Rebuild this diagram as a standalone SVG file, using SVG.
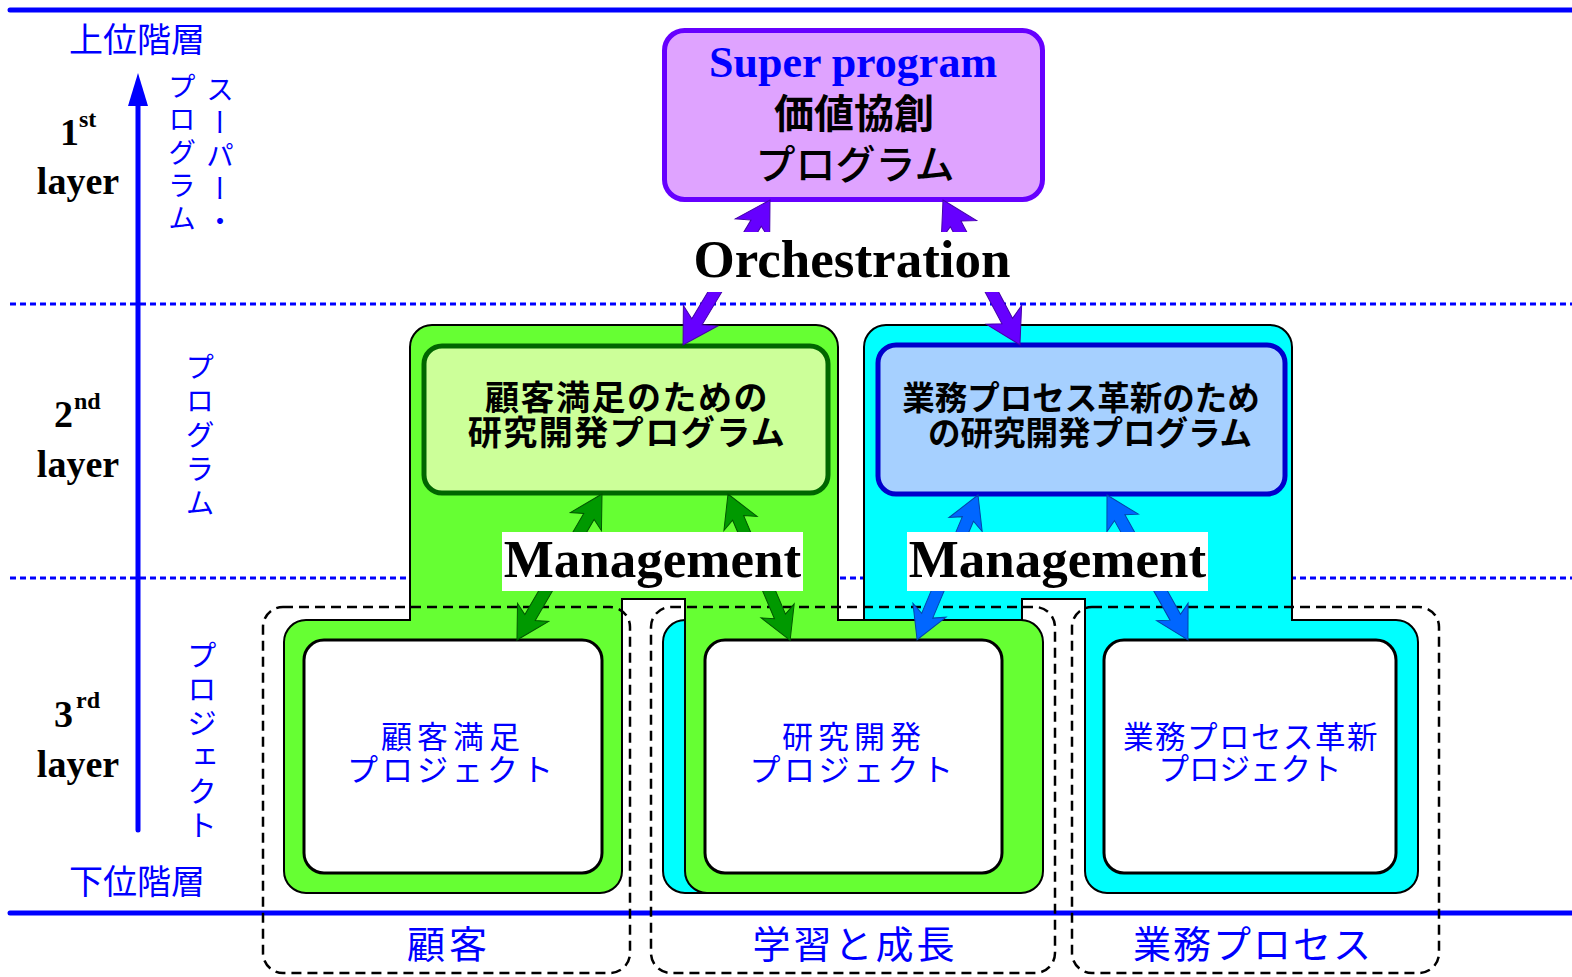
<svg xmlns="http://www.w3.org/2000/svg" width="1572" height="977" viewBox="0 0 1572 977">
<style>
.lat{font-family:"Liberation Serif","Times New Roman",serif;font-weight:bold}
.jp{font-family:"Noto Sans CJK JP","Noto Sans",sans-serif}
.blue{fill:#0000FF}
.solid{stroke:#0000FF;stroke-width:5;stroke-linecap:round;fill:none}
.dot{stroke:#0000FF;stroke-width:3;stroke-dasharray:6 4;fill:none}
.dash{stroke:#000;stroke-width:2.5;stroke-dasharray:10 6;fill:none}
.cont{stroke:#000;stroke-width:2}
.inner{fill:#fff;stroke:#000;stroke-width:3}
.vert{writing-mode:vertical-rl;text-orientation:upright}
.ap{fill:#6600FF;stroke:#4400aa;stroke-width:1}
.ag{fill:#009900;stroke:#005500;stroke-width:1}
.ab{fill:#0066FF;stroke:#0044aa;stroke-width:1}
.lbl{fill:#fff}
</style>

<g id="guides">
  <line class="solid" x1="10" y1="10" x2="1572" y2="10"/>
  <line class="solid" x1="10" y1="913" x2="1572" y2="913"/>
  <line class="dot" x1="10" y1="304" x2="1572" y2="304"/>
  <line class="dot" x1="10" y1="578" x2="1572" y2="578"/>
</g>

<g id="axis">
  <line class="solid" x1="138" y1="100" x2="138" y2="830"/>
  <polygon points="138,73 128,106 148,106" fill="#0000FF"/>
  <text class="jp blue" x="137" y="52" font-size="34" text-anchor="middle">上位階層</text>
  <text class="jp blue" x="137" y="894" font-size="34" text-anchor="middle">下位階層</text>
</g>

<g id="layer1">
  <text class="lat" x="60" y="145" font-size="38">1</text>
  <text class="lat" x="79" y="127" font-size="24">st</text>
  <text class="lat" x="78" y="194" font-size="38" text-anchor="middle">layer</text>
  <text class="jp blue vert" x="220" y="75" font-size="28" letter-spacing="5">スーパー・</text>
  <text class="jp blue vert" x="182" y="72" font-size="28" letter-spacing="5">プログラム</text>
</g>
<g id="layer2">
  <text class="lat" x="54" y="427" font-size="38">2</text>
  <text class="lat" x="74" y="409" font-size="24">nd</text>
  <text class="lat" x="78" y="477" font-size="38" text-anchor="middle">layer</text>
  <text class="jp blue vert" x="200" y="352" font-size="29" letter-spacing="5">プログラム</text>
</g>
<g id="layer3">
  <text class="lat" x="54" y="727" font-size="38">3</text>
  <text class="lat" x="76" y="708" font-size="24">rd</text>
  <text class="lat" x="78" y="777" font-size="38" text-anchor="middle">layer</text>
  <text class="jp blue vert" x="202" y="640" font-size="30" letter-spacing="4">プロジェクト</text>
</g>

<g id="cyan-program">
  <path class="cont" fill="#00FFFF" d="M864,620 H685 A22 22 0 0 0 663,642 V871 A22 22 0 0 0 685,893 H1000 A22 22 0 0 0 1022,871 V599 H1085 V871 A22 22 0 0 0 1107,893 H1396 A22 22 0 0 0 1418,871 V642 A22 22 0 0 0 1396,620 H1292 V347 A22 22 0 0 0 1270,325 H886 A22 22 0 0 0 864,347 Z"/>
</g>
<g id="green-program">
  <path class="cont" fill="#66FF33" d="M410,620 H306 A22 22 0 0 0 284,642 V871 A22 22 0 0 0 306,893 H600 A22 22 0 0 0 622,871 V599 H685 V871 A22 22 0 0 0 707,893 H1021 A22 22 0 0 0 1043,871 V642 A22 22 0 0 0 1021,620 H838 V347 A22 22 0 0 0 816,325 H432 A22 22 0 0 0 410,347 Z"/>
</g>

<g id="project-customer">
  <rect class="inner" x="304" y="640" width="298" height="233" rx="20"/>
  <text class="jp blue" font-size="31" text-anchor="middle"><tspan x="453" y="748" letter-spacing="5">顧客満足</tspan><tspan x="452" y="781" letter-spacing="4">プロジェクト</tspan></text>
</g>
<g id="project-rd">
  <rect class="inner" x="705" y="640" width="297" height="233" rx="20"/>
  <text class="jp blue" font-size="31" text-anchor="middle"><tspan x="854" y="748" letter-spacing="5">研究開発</tspan><tspan x="853" y="781" letter-spacing="3.5">プロジェクト</tspan></text>
</g>
<g id="project-bpr">
  <rect class="inner" x="1104" y="640" width="292" height="233" rx="20"/>
  <text class="jp blue" font-size="30.5" text-anchor="middle"><tspan x="1251" y="748" letter-spacing="1.5">業務プロセス革新</tspan><tspan x="1250" y="780">プロジェクト</tspan></text>
</g>

<g id="program-customer">
  <rect x="424" y="346" width="404" height="147" rx="18" fill="#CCFF99" stroke="#006600" stroke-width="5"/>
  <text class="jp" font-size="34" font-weight="bold" letter-spacing="1.5" text-anchor="middle"><tspan x="627" y="410">顧客満足のための</tspan><tspan x="627" y="445">研究開発プログラム</tspan></text>
</g>
<g id="program-bpr">
  <rect x="878" y="345" width="407" height="149" rx="18" fill="#A6D0FF" stroke="#0000CC" stroke-width="5"/>
  <text class="jp" font-size="32.5" font-weight="bold" text-anchor="middle"><tspan x="1081" y="410">業務プロセス革新のため</tspan><tspan x="1090" y="445">の研究開発プログラム</tspan></text>
</g>

<g id="super-program">
  <rect x="664.5" y="30.5" width="378" height="169" rx="20" fill="#DFA3FF" stroke="#6600FF" stroke-width="5"/>
  <text class="lat blue" x="853" y="77" font-size="44" text-anchor="middle">Super program</text>
  <text class="jp" font-size="40" text-anchor="middle"><tspan x="854" y="128" font-weight="bold">価値協創</tspan><tspan x="855" y="179" font-weight="500">プログラム</tspan></text>
</g>

<g id="perspectives">
  <rect class="dash" x="263" y="607" width="367" height="366" rx="20"/>
  <rect class="dash" x="651" y="607" width="404" height="366" rx="20"/>
  <rect class="dash" x="1072" y="607" width="367" height="366" rx="20"/>
  <text class="jp blue" x="449" y="958" font-size="38" letter-spacing="4" text-anchor="middle">顧客</text>
  <text class="jp blue" x="855" y="958" font-size="38" letter-spacing="3" text-anchor="middle">学習と成長</text>
  <text class="jp blue" x="1253" y="958" font-size="38" letter-spacing="2" text-anchor="middle">業務プロセス</text>
</g>

<g id="connectors">
  <polygon class="ap" transform="translate(770,200) rotate(120.96)" points="0,0 34,-20 27,-6 142,-6 135,-20 169,0 135,20 142,6 27,6 34,20"/>
  <polygon class="ap" transform="translate(943,200) rotate(62.03)" points="0,0 34,-20 27,-6 137,-6 130,-20 164,0 130,20 137,6 27,6 34,20"/>
  <polygon class="ag" transform="translate(602,494) rotate(120.21)" points="0,0 32,-18 26,-6 143,-6 137,-18 169,0 137,18 143,6 26,6 32,18"/>
  <polygon class="ag" transform="translate(728,494) rotate(67)" points="0,0 32,-18 26,-6 133,-6 127,-18 159,0 127,18 133,6 26,6 32,18"/>
  <polygon class="ab" transform="translate(978,495) rotate(112.82)" points="0,0 32,-18 26,-6 131,-6 125,-18 157,0 125,18 131,6 26,6 32,18"/>
  <polygon class="ab" transform="translate(1107,495) rotate(60.81)" points="0,0 32,-18 26,-6 140,-6 134,-18 166,0 134,18 140,6 26,6 32,18"/>
</g>

<g id="labels">
  <rect class="lbl" x="690" y="232" width="323" height="60"/>
  <text class="lat" x="852" y="277" font-size="53" text-anchor="middle">Orchestration</text>
  <rect class="lbl" x="502" y="532" width="301" height="59"/>
  <text class="lat" x="652.5" y="577" font-size="53" text-anchor="middle">Management</text>
  <rect class="lbl" x="907" y="532" width="301" height="59"/>
  <text class="lat" x="1057.5" y="577" font-size="53" text-anchor="middle">Management</text>
</g>
</svg>
